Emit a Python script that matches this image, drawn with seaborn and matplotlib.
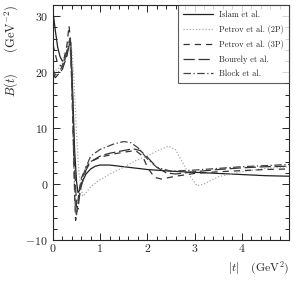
import numpy as np
import pandas as pd
import matplotlib
matplotlib.use("Agg")
import matplotlib.pyplot as plt
from matplotlib.ticker import MultipleLocator
import seaborn as sns

# values
islam_t = [0.0, 0.05, 0.1, 0.15, 0.2, 0.25, 0.3, 0.35, 0.38, 0.42, 0.46, 0.5, 0.53, 0.56,
           0.6, 0.7, 0.8, 0.9, 1.0, 1.2, 1.5, 2.0, 2.5, 3.0, 3.5, 4.0, 4.5, 5.0]
islam_b = [31.0, 27.5, 24.5, 22.8, 22.0, 22.2, 23.5, 25.0, 25.3, 16.0, 6.0, 0.5, -1.5, -1.2,
           0.0, 1.8, 2.7, 3.2, 3.4, 3.4, 3.1, 2.6, 2.3, 2.1, 1.9, 1.7, 1.5, 1.4]

petrov2_t = [0.0, 0.1, 0.2, 0.3, 0.36, 0.4, 0.45, 0.5, 0.55, 0.63, 0.7, 0.8, 1.0, 1.25, 1.5,
             1.75, 2.0, 2.2, 2.45, 2.6, 2.75, 2.9, 3.05, 3.2, 3.5, 4.0, 4.5, 5.0]
petrov2_b = [20.0, 20.5, 21.5, 23.5, 25.5, 24.0, 18.0, 9.0, 2.0, -2.2, -1.6, -0.5, 0.8, 2.0, 3.0,
             4.2, 5.0, 5.9, 6.8, 6.1, 3.8, 1.5, -0.3, 0.0, 1.3, 2.2, 2.8, 3.1]

petrov3_t = [0.0, 0.1, 0.2, 0.3, 0.34, 0.37, 0.42, 0.46, 0.48, 0.5, 0.55, 0.6, 0.7, 0.8, 1.0,
             1.3, 1.5, 1.75, 1.9, 2.0, 2.15, 2.3, 2.6, 3.0, 3.5, 4.0, 4.5, 5.0]
petrov3_b = [25.0, 21.5, 21.0, 25.0, 28.3, 26.0, 12.0, -2.0, -6.5, -5.5, -1.5, 1.0, 3.0, 4.0, 4.8,
             5.4, 5.7, 6.0, 5.0, 3.0, 1.2, 0.9, 1.4, 1.9, 2.2, 2.4, 2.6, 2.7]

bourely_t = [0.0, 0.05, 0.1, 0.2, 0.3, 0.36, 0.4, 0.45, 0.5, 0.53, 0.58, 0.7, 0.8, 1.0, 1.2,
             1.5, 1.7, 1.85, 2.0, 2.2, 2.4, 2.6, 3.0, 3.5, 4.0, 4.5, 5.0]
bourely_b = [20.0, 19.0, 19.5, 20.5, 23.0, 26.0, 20.0, 5.0, -4.0, -4.5, -1.0, 2.5, 4.0, 5.0, 5.5,
             6.0, 6.3, 6.0, 4.8, 3.0, 2.0, 1.8, 2.2, 2.6, 2.9, 3.1, 3.2]

block_t = [0.0, 0.05, 0.1, 0.2, 0.3, 0.36, 0.4, 0.45, 0.48, 0.5, 0.55, 0.6, 0.7, 0.8, 1.0,
           1.3, 1.5, 1.65, 1.8, 2.0, 2.2, 2.5, 3.0, 3.5, 4.0, 4.5, 5.0]
block_b = [20.5, 19.5, 19.8, 21.0, 24.0, 26.0, 18.0, 2.0, -5.0, -5.5, -2.0, 0.5, 3.0, 5.0, 6.2,
           7.2, 7.6, 7.4, 6.5, 4.5, 3.0, 2.3, 2.5, 2.8, 3.1, 3.3, 3.5]

labels = ["Islam et al.", "Petrov et al. (2P)", "Petrov et al. (3P)", "Bourely et al.", "Block et al."]
xtick_labels = ["0", "1", "2", "3", "4", ""]

sns.set_style("ticks")
plt.rcParams["font.family"] = "cmr10"
plt.rcParams["mathtext.fontset"] = "cm"
plt.rcParams["axes.formatter.use_mathtext"] = True

fig = plt.figure(figsize=(2.94, 2.83), dpi=100)
ax = fig.add_axes([0.180, 0.152, 0.803, 0.830])

series = [
    (islam_t, islam_b, "#222222", (None, None), 0.9),
    (petrov2_t, petrov2_b, "#aaaaaa", (1, 1.5), 0.9),
    (petrov3_t, petrov3_b, "#333333", (5, 4), 0.9),
    (bourely_t, bourely_b, "#333333", (9, 3), 0.9),
    (block_t, block_b, "#444444", (6, 2, 1, 2), 0.9),
]

for (t, b, col, dash, lw), lab in zip(series, labels):
    df = pd.DataFrame({"t": t, "B": b})
    sns.lineplot(data=df, x="t", y="B", ax=ax, color=col, lw=lw,
                 label=lab, sort=False, estimator=None)
    ln = ax.get_lines()[-1]
    if dash[0] is not None:
        ln.set_dashes(dash)

ax.set_xlim(0, 5)
ax.set_ylim(-10, 32)
ax.set_xticks(range(6), xtick_labels)
ax.xaxis.set_minor_locator(MultipleLocator(0.2))
ax.yaxis.set_major_locator(MultipleLocator(10))
ax.yaxis.set_minor_locator(MultipleLocator(2))
ax.tick_params(which="both", direction="in", top=True, right=True, width=0.7, labelsize=8.5)
ax.tick_params(which="major", length=5)
ax.tick_params(which="minor", length=3)
for s in ax.spines.values():
    s.set_linewidth(0.8)

ax.set_xlabel(r"$|t|$   (GeV$^2$)", fontsize=8.5, loc="right")
ax.set_ylabel(r"$B(t)$     (GeV$^{-2}$)", fontsize=9, loc="top")

leg = ax.legend(loc="upper right", bbox_to_anchor=(1.0, 1.0), borderaxespad=0,
                fontsize=6, frameon=True, fancybox=False, edgecolor="#333333",
                handlelength=3.6, labelspacing=0.75, borderpad=0.6, handletextpad=0.8)
leg.get_frame().set_linewidth(0.8)

fig.savefig("out.png", dpi=100)
